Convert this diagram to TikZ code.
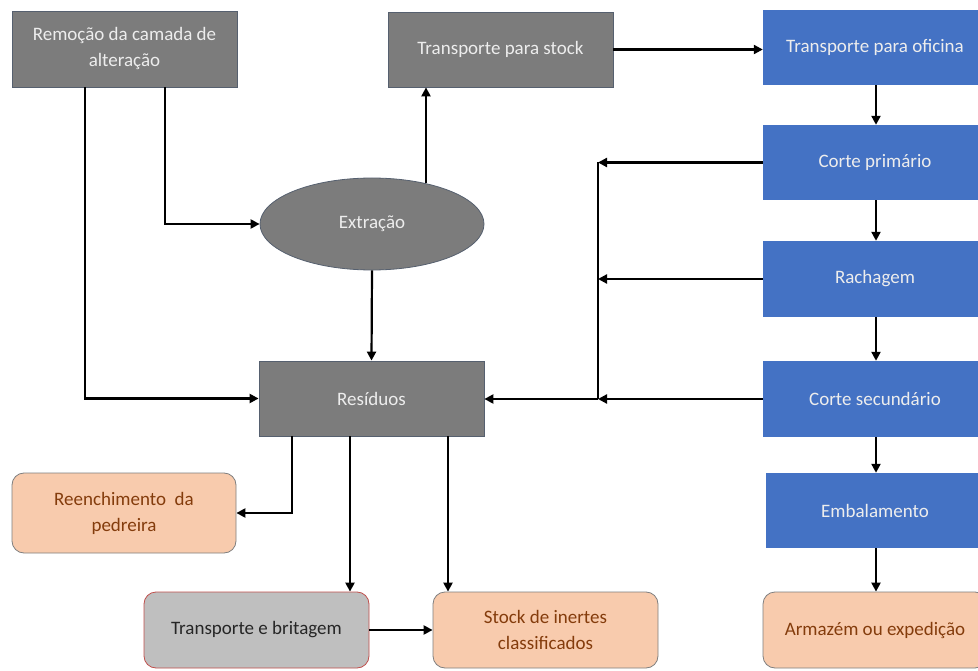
\documentclass[tikz,border=0pt]{standalone}
\usepackage{fontspec}
\setmainfont{Carlito}
\usetikzlibrary{arrows.meta,shapes.geometric}

\definecolor{stepgray}{HTML}{7C7C7C}
\definecolor{stepgrayline}{HTML}{56606F}
\definecolor{stepblue}{HTML}{4472C4}
\definecolor{peach}{HTML}{F8CBAD}
\definecolor{peachline}{HTML}{7F7F7F}
\definecolor{peachtext}{HTML}{843C0C}
\definecolor{lightgray}{HTML}{BFBFBF}
\definecolor{redline}{HTML}{C0504D}
\definecolor{paletext}{HTML}{EDEDED}

\tikzset{
  box/.style={rectangle, minimum width=225pt, minimum height=76pt, inner sep=0pt,
    align=center, font=\fontsize{19}{26}\selectfont},
  graybox/.style={box, fill=stepgray, draw=stepgrayline, line width=0.8pt, text=paletext},
  bluebox/.style={box, fill=stepblue, draw=none, text=paletext, minimum width=224pt},
  peachbox/.style={box, fill=peach, draw=peachline, line width=0.8pt, rounded corners=12pt, text=peachtext},
  britbox/.style={box, fill=lightgray, draw=redline, line width=0.8pt, rounded corners=12pt, text=black!85},
  arr/.style={line width=2.2pt, -{Triangle[length=9pt,width=9pt]}},
  plain/.style={line width=2.2pt},
}

\begin{document}
\begin{tikzpicture}[x=1pt,y=-1pt]
\useasboundingbox (0,0) rectangle (978,671);
\clip (0,0) rectangle (978,671);
\fill[white] (0,0) rectangle (978,671);

% left column and quarry flow
\node[graybox] (rem) at (124.5,49) {Remoção da camada de\\alteração};
\node[graybox, minimum height=75pt] (tstock) at (500.5,49.5) {Transporte para stock};
\node[ellipse, fill=stepgray, draw=stepgrayline, line width=0.8pt, minimum width=224pt,
      minimum height=92pt, inner sep=0pt, text=paletext, font=\fontsize{19}{26}\selectfont]
      (ext) at (372,224) {Extração};
\node[graybox, minimum height=75pt] (res) at (371.5,398.5) {Resíduos};

% workshop column
\node[bluebox, minimum height=75pt] (tofi) at (875,47.5) {Transporte para oficina};
\node[bluebox, minimum height=75pt] (cp) at (875,162.5) {Corte primário};
\node[bluebox] (rach) at (875,279) {Rachagem};
\node[bluebox] (csec) at (875,399) {Corte secundário};
\node[bluebox, minimum width=218pt, minimum height=75pt] (emb) at (875,510.5) {Embalamento};
\node[peachbox, minimum width=224pt] (arm) at (875,630) {Armazém ou expedição};

% destinations of waste
\node[peachbox, minimum width=224pt, minimum height=80pt] (reen) at (124,513) {Reenchimento~ da\\pedreira};
\node[britbox] (tbrit) at (256.5,630) {Transporte e britagem};
\node[peachbox] (stockin) at (545.5,630) {Stock de inertes\\classificados};

% quarry connectors
\draw[arr] (rem.south -| 85,0) |- (res.west);
\draw[arr] (rem.south -| 165,0) |- (ext.west);
\draw[arr] (ext.37) -- (ext.37 |- tstock.south);
\draw[arr] (ext.south) -- (res.north);
\draw[arr] (tstock.east) -- (tstock.east -| tofi.west);

% workshop chain
\coordinate (col) at (876,0);
\draw[arr] (tofi.south -| col) -- (cp.north -| col);
\draw[arr] (cp.south -| col) -- (rach.north -| col);
\draw[arr] (rach.south -| col) -- (csec.north -| col);
\draw[arr] (csec.south -| col) -- (emb.north -| col);
\draw[arr] (emb.south -| col) -- (arm.north -| col);

% offcuts back to waste
\coordinate (spine) at (598,0);
\draw[arr] (cp.west) -- (cp.west -| spine);
\draw[arr] (rach.west) -- (rach.west -| spine);
\draw[arr] (csec.west) -- (csec.west -| spine);
\draw[plain] (cp.west -| spine) -- (csec.west -| spine);
\draw[arr] (csec.west -| spine) -- (csec.west -| res.east);

% waste outlets
\draw[arr] (res.south -| 292,0) |- (reen.east);
\draw[arr] (res.south -| 350,0) -- (tbrit.north -| 350,0);
\draw[arr] (res.south -| 448,0) -- (stockin.north -| 448,0);
\draw[arr] (tbrit.east) -- (stockin.west);
\end{tikzpicture}
\end{document}
